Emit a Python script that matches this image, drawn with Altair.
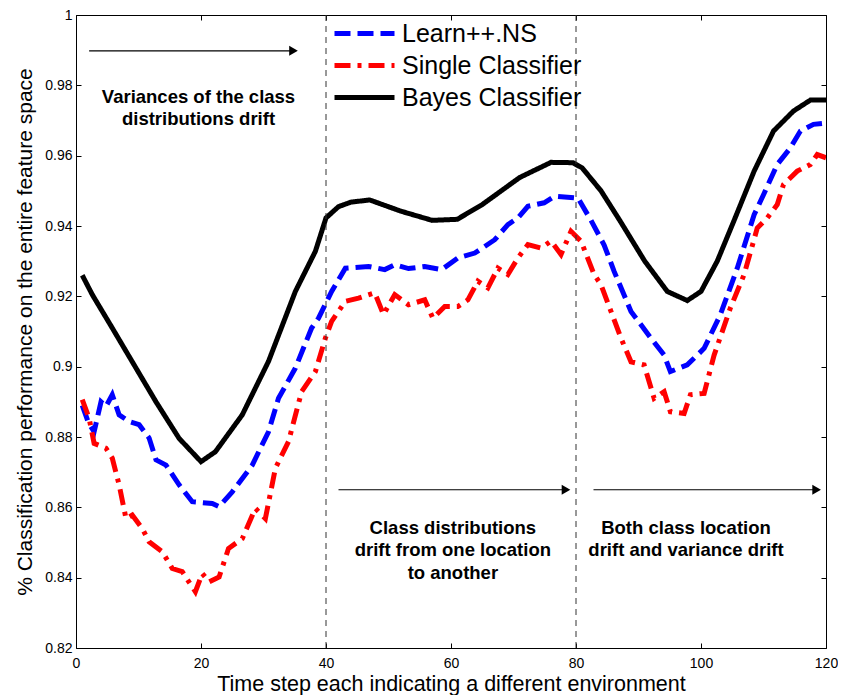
import altair as alt
import pandas as pd

# ---- data ----
bayes_x = [1, 2.6, 5.8, 9.6, 12.8, 16.5, 20, 22.3, 26.6, 30.8, 35.1, 38.3, 40, 42, 44,
           47, 52, 57, 61, 65, 71, 76, 79.5, 81, 84, 87, 91, 94.6, 97.8, 100, 102.6,
           105.3, 108.5, 111.6, 114.8, 117.5, 120]
bayes_y = [0.926, 0.9205, 0.911, 0.8996, 0.890, 0.8796, 0.873, 0.8758, 0.8863, 0.9015,
           0.9214, 0.9328, 0.9423, 0.9455, 0.9468, 0.9474, 0.9442, 0.9416, 0.9419, 0.9461,
           0.9538, 0.9581, 0.958, 0.9565, 0.950, 0.9416, 0.930, 0.9214, 0.9188, 0.9214,
           0.930, 0.9416, 0.9556, 0.967, 0.9727, 0.9758, 0.9758]

learn_x = [1, 2, 2.9, 4.0, 4.8, 5.8, 6.9, 8.5, 10.1, 11.7, 12.8, 14.4, 16.5, 18.6, 21.8,
           22.9, 25, 28.2, 30.8, 32.4, 35.1, 37.7, 38.8, 40.9, 43.1, 46.8, 49.4, 51, 53.2,
           55.8, 58.5, 61.1, 63.8, 67, 69.1, 70.7, 72.3, 74.9, 76.6, 79.7, 80.3, 82.4, 84.5,
           86.1, 88.8, 92, 94.1, 95.1, 97.8, 100.5, 103.1, 105.8, 108.5, 110, 112.2, 114.3,
           115.9, 118, 120]
learn_y = [0.889, 0.884, 0.8815, 0.890, 0.8887, 0.892, 0.8863, 0.8844, 0.8835, 0.8797,
           0.8735, 0.872, 0.8664, 0.8616, 0.8611, 0.8602, 0.8644, 0.872, 0.8815, 0.891,
           0.8996, 0.911, 0.9138, 0.9214, 0.928, 0.9285, 0.9276, 0.929, 0.9279, 0.9285,
           0.9276, 0.9309, 0.9323, 0.9361, 0.9404, 0.9423, 0.9456, 0.9466, 0.9485, 0.948,
           0.948, 0.9416, 0.9346, 0.9271, 0.9157, 0.9081, 0.9033, 0.8986, 0.9005, 0.9052,
           0.9148, 0.928, 0.9432, 0.9489, 0.9575, 0.9622, 0.967, 0.9689, 0.9693]

single_x = [1, 2.1, 2.9, 4.8, 5.8, 6.9, 8.0, 9.0, 10.6, 11.7, 13.8, 15.4, 17, 19.1, 20.2,
            21.3, 22.9, 24.4, 26.6, 28.7, 30.3, 31.9, 34, 36.1, 38.3, 39.9, 40.9, 43.1,
            45.2, 47.8, 49.2, 51, 53.2, 55.8, 57.1, 59, 61.1, 62.7, 64.3, 65.9, 67.5, 69.1,
            70.7, 72.3, 74.4, 76, 77.6, 79.2, 80.8, 82.9, 84, 85.6, 87.2, 88.8, 90.9, 92.5,
            94.1, 95.1, 97.3, 98.3, 100.5, 102.1, 104.7, 106.9, 109, 110.6, 112.2, 113.2,
            115.4, 117.5, 118.6, 120]
single_y = [0.8906, 0.8853, 0.8782, 0.8768, 0.874, 0.8664, 0.8568, 0.8578, 0.854, 0.8502,
            0.8474, 0.8426, 0.8417, 0.836, 0.8412, 0.8388, 0.8402, 0.8483, 0.8511, 0.8597,
            0.8568, 0.8711, 0.8787, 0.8929, 0.8986, 0.9081, 0.9129, 0.9186, 0.9195, 0.921,
            0.9148, 0.9205, 0.9176, 0.919, 0.9138, 0.9171, 0.9171, 0.919, 0.9243, 0.9224,
            0.928, 0.9262, 0.9309, 0.9347, 0.9337, 0.9357, 0.9319, 0.9385, 0.9357, 0.9262,
            0.9233, 0.9157, 0.9081, 0.9014, 0.9005, 0.891, 0.8929, 0.8872, 0.8867, 0.892,
            0.8924, 0.9033, 0.9167, 0.9262, 0.9394, 0.9423, 0.9461, 0.9518, 0.9556, 0.9575,
            0.9603, 0.9594]

x_ticks = [0, 20, 40, 60, 80, 100, 120]
y_ticks = [0.82, 0.84, 0.86, 0.88, 0.90, 0.92, 0.94, 0.96, 0.98, 1.0]
boundaries = [40, 80]

note_texts = ["Variances of the class\ndistributions drift",
              "Class distributions\ndrift from one location\nto another",
              "Both class location\ndrift and variance drift"]
note_x = [19.6, 60.3, 97.6]
note_y = [0.9768, 0.8542, 0.8542]
arrow_x1 = [2.1, 42.0, 82.8]
arrow_x2 = [34.8, 78.4, 118.5]
arrow_y = [0.9898, 0.865, 0.865]

# ---- tables ----
rows = []
for name, xs, ys in [("Bayes Classifier", bayes_x, bayes_y),
                     ("Learn++.NS", learn_x, learn_y),
                     ("Single Classifier", single_x, single_y)]:
    for i, (a, b) in enumerate(zip(xs, ys)):
        rows.append({"t": a, "v": b, "series": name, "order": i})
df = pd.DataFrame(rows)
notes = pd.DataFrame({"x": note_x, "y": note_y, "text": note_texts})
arrows = pd.DataFrame({"x1": arrow_x1, "x2": arrow_x2, "y": arrow_y})
bounds = pd.DataFrame({"b": boundaries, "yy": [0.9, 0.9]})

FONT = "Liberation Sans"
xscale = alt.Scale(domain=[0, 120], nice=False, zero=False)
yscale = alt.Scale(domain=[0.82, 1.0], nice=False, zero=False)

legend_domain = ["Learn++.NS", "Single Classifier", "Bayes Classifier"]

lines = alt.Chart(df).mark_line(strokeWidth=5, strokeCap="butt", clip=True).encode(
    x=alt.X("t:Q", scale=xscale,
            axis=alt.Axis(values=x_ticks, title="Time step each indicating a different environment",
                          offset=-5, tickSize=5, labelPadding=8, domain=False, labelFlush=False,
                          titleFontSize=21.5, titlePadding=3, labelFontSize=14)),
    y=alt.Y("v:Q", scale=yscale,
            axis=alt.Axis(values=y_ticks, format=".2~f",
                          title="% Classification performance on the entire feature space",
                          offset=-5, tickSize=5, labelPadding=4, domain=False, labelFlush=False,
                          titleFontSize=21, titlePadding=9, labelFontSize=14)),
    color=alt.Color("series:N",
                    scale=alt.Scale(domain=legend_domain, range=["#0000ff", "#ff0000", "#000000"]),
                    legend=alt.Legend(title=None, orient="none", legendX=241, legendY=1,
                                      symbolType="M0,0H4", symbolSize=900, symbolStrokeWidth=5,
                                      labelFontSize=25, labelFont=FONT, rowPadding=1,
                                      labelOffset=50, labelLimit=400, labelColor="black")),
    strokeDash=alt.StrokeDash("series:N",
                              scale=alt.Scale(domain=legend_domain,
                                              range=[[16, 7], [16, 7, 4, 7], [1, 0]]),
                              legend=None),
    detail="series:N",
    order="order:Q",
)

vlines = alt.Chart(bounds).mark_rule(color="#333333", strokeWidth=1, strokeDash=[6, 5]).encode(
    x=alt.X("b:Q", scale=xscale,
            axis=alt.Axis(orient="top", values=x_ticks, labels=False, title=None,
                          offset=-5, tickSize=5, domain=False)),
    y=alt.value(0),
    y2=alt.value(633),
)

# invisible layer that carries the right-hand axis
right_axis = alt.Chart(bounds).mark_point(opacity=0).encode(
    x=alt.X("b:Q", scale=xscale, axis=None),
    y=alt.Y("yy:Q", scale=yscale,
            axis=alt.Axis(orient="right", values=y_ticks, labels=False, title=None,
                          offset=-5, tickSize=5, domain=False)),
)

arrow_lines = alt.Chart(arrows).mark_rule(color="black", strokeWidth=1.2).encode(
    x=alt.X("x1:Q", scale=xscale, axis=None), x2="x2:Q",
    y=alt.Y("y:Q", scale=yscale, axis=None))
arrow_heads = alt.Chart(arrows).mark_point(shape="triangle-right", filled=True, color="black",
                                           size=100, opacity=1).encode(
    x=alt.X("x2:Q", scale=xscale, axis=None), y=alt.Y("y:Q", scale=yscale, axis=None))

text = alt.Chart(notes).mark_text(font=FONT, fontSize=18.5, fontWeight="bold", color="black",
                                  align="center", baseline="middle", lineBreak="\n",
                                  lineHeight=22.5).encode(
    x=alt.X("x:Q", scale=xscale, axis=None), y=alt.Y("y:Q", scale=yscale, axis=None),
    text="text:N")

chart = alt.layer(lines, vlines, right_axis, arrow_lines, arrow_heads, text).resolve_axis(
    x="independent", y="independent"
).properties(width=750, height=633, padding={"left": 6, "top": 0, "right": 0, "bottom": 0},
             background="white").configure_view(stroke="black", strokeWidth=1).configure_axis(
    labelFont=FONT, titleFont=FONT, labelColor="black", titleColor="black",
    tickColor="black", grid=False, titleFontWeight="normal")

chart.save("out.html", embed_options={"renderer": "svg", "actions": False})
